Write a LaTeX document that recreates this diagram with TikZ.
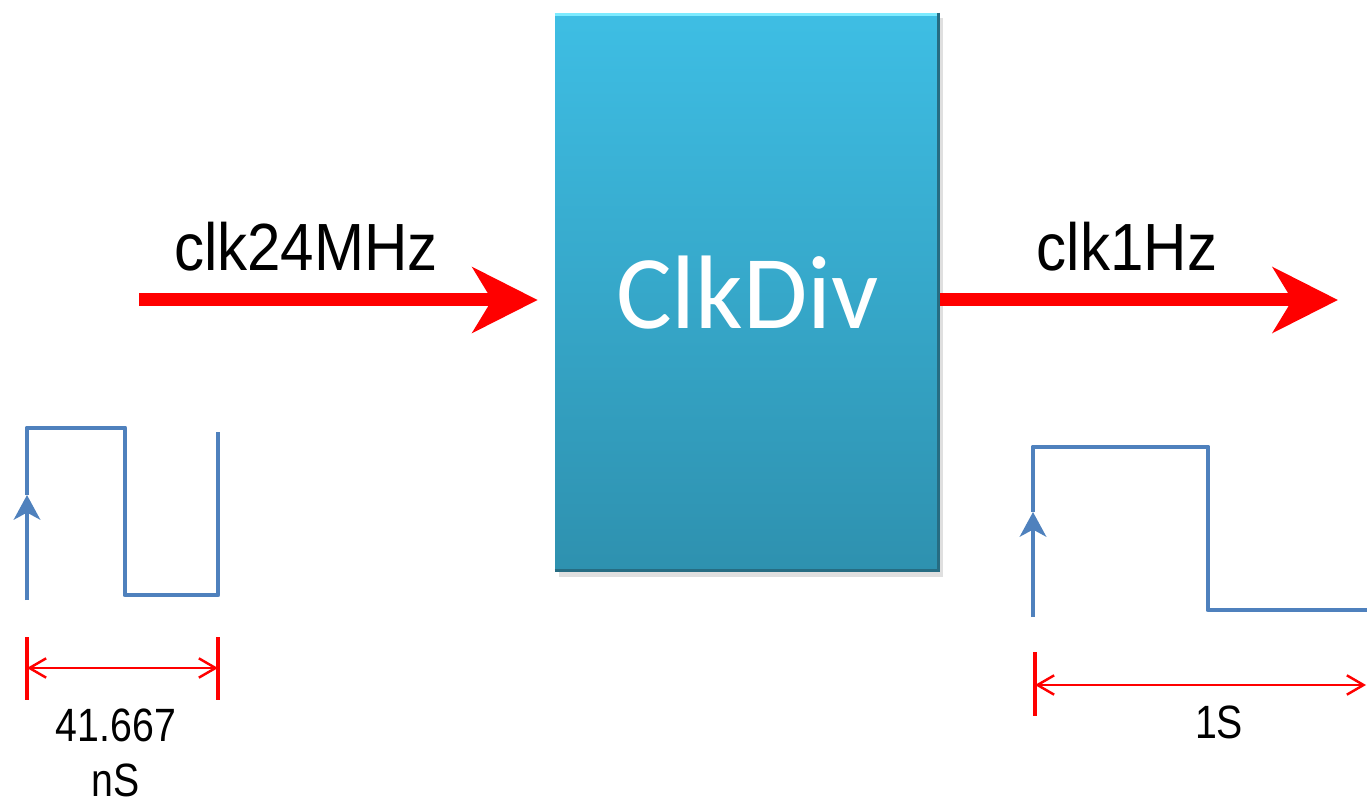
\documentclass[tikz,border=0pt]{standalone}
\usepackage{fontspec}
\setmainfont{Liberation Sans}
\newfontfamily\carlito{Carlito}
\usetikzlibrary{arrows.meta,positioning,shadows}
\definecolor{SignalRed}{RGB}{255,0,0}
\definecolor{WaveBlue}{RGB}{79,129,189}
\definecolor{BoxTop}{RGB}{62,190,228}
\definecolor{BoxBottom}{RGB}{46,145,175}
\definecolor{BevelLight}{RGB}{125,235,255}
\definecolor{BevelDark}{RGB}{38,108,130}
\newcommand{\edgearrow}[2]{%
  \draw[WaveBlue,line width=2.8pt,-{Stealth[length=14pt,width=15pt,inset=4pt]}] (#1)--(#2);}

\begin{document}
\begin{tikzpicture}[x=0.02cm,y=-0.02cm,
  wave/.style={WaveBlue,line width=2.8pt,line join=round},
  dimline/.style={SignalRed,line width=1.4pt},
  dimtick/.style={SignalRed,line width=1.8pt},
  sig/.style={SignalRed,line width=7.4pt,-{Stealth[length=37pt,width=37pt,inset=11pt]}},
  lbl/.style={font=\fontsize{38}{40}\selectfont,xscale=0.9,inner sep=0pt},
  dimlbl/.style={font=\fontsize{26.6}{30}\selectfont,xscale=0.84,inner sep=0pt}]
  \useasboundingbox (0,0) rectangle (1367,804);
  % divider block
  \node[minimum width=7.7cm,minimum height=11.18cm,inner sep=0pt,
        top color=BoxTop,bottom color=BoxBottom,
        drop shadow={shadow xshift=2pt,shadow yshift=-3pt,opacity=0.25},
        text=white,font=\carlito\fontsize{59.5}{60}\selectfont] (div) at (747.5,292.5) {ClkDiv};
  \draw[BevelLight,line width=2pt] ([yshift=-1pt]div.north west) -- ([yshift=-1pt]div.north east);
  \draw[BevelDark,line width=2pt] ([xshift=-1pt]div.north east) -- ([xshift=-1pt]div.south east);
  \draw[BevelDark,line width=2pt] ([yshift=1pt]div.south west) -- ([yshift=1pt]div.south east);
  % in and out
  \coordinate (clkin) at (139,300);
  \coordinate (clkout) at (1338,300);
  \draw[sig,shorten >=0.34cm] (clkin) -- (clkin -| div.west);
  \draw[sig] (clkout -| div.east) -- (clkout);
  \node[lbl] (inlbl) at (306,247) {clk24MHz};
  \node[lbl] (outlbl) at (1127,247) {clk1Hz};
  % fast clock
  \draw[wave] (27,495) -- (27,428) -- (125,428) -- (125,595) -- (218,595) -- (218,432);
  \edgearrow{27,600}{27,495}
  \coordinate (pa) at (27,668);
  \coordinate (pb) at (218,668);
  \draw[dimtick] (27,637) -- (27,700);
  \draw[dimtick] (218,637) -- (218,700);
  \draw[dimline,{Straight Barb[length=9.5pt,width=11pt]}-{Straight Barb[length=9.5pt,width=11pt]}] (pa) -- (pb);
  \node[dimlbl] (pertop) at (116,725) {41.667};
  \node[dimlbl] (perbot) at (116,780) {nS};
  % slow clock
  \draw[wave] (1033,512) -- (1033,447) -- (1208,447) -- (1208,610) -- (1367,610);
  \edgearrow{1033,617}{1033,512}
  \coordinate (qa) at (1035,685);
  \coordinate (qb) at (1366,685);
  \draw[dimtick] (1035,652) -- (1035,716);
  \draw[dimline,{Straight Barb[length=9.5pt,width=11pt]}-{Straight Barb[length=9.5pt,width=11pt]}] (qa) -- (qb);
  \node[dimlbl] (perout) at (1219,722) {1S};
\end{tikzpicture}
\end{document}
